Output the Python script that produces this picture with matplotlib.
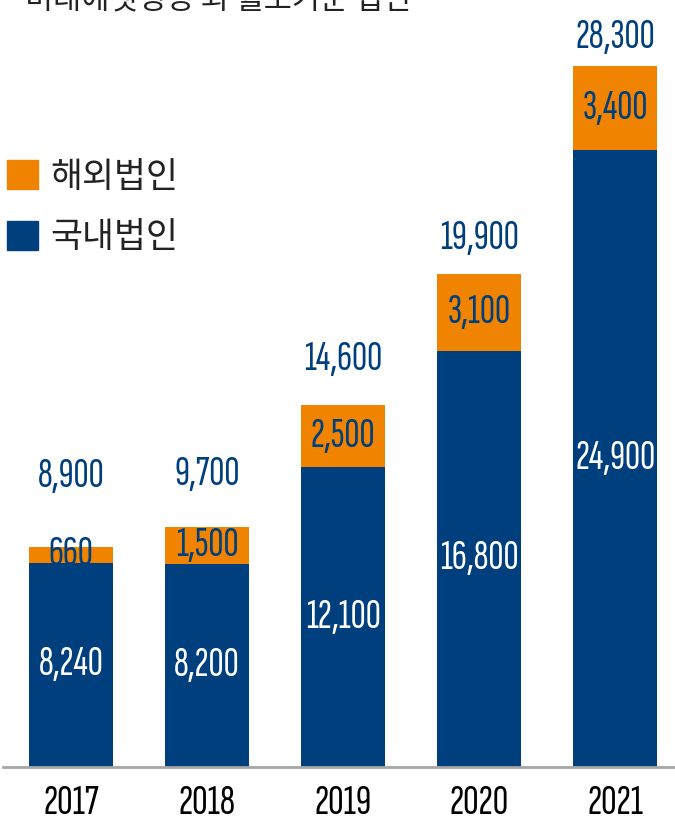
import matplotlib
matplotlib.use('Agg')
import matplotlib.pyplot as plt
from matplotlib import font_manager
from matplotlib.patches import Patch
import numpy as np

years = ['2017', '2018', '2019', '2020', '2021']
domestic = [8240, 8200, 12100, 16800, 24900]
overseas = [660, 1500, 2500, 3100, 3400]
totals = [8900, 9700, 14600, 19900, 28300]
total_pad = [70, 52, 46, 36, 29]   # px above bar top for the total label

blue = '#003f7d'
orange = '#f08300'
ink = '#222222'

# narrow face for the numbers, first one installed wins
names = {f.name for f in font_manager.fontManager.ttflist}
num_family = 'DejaVu Sans'
for cand in ['Sofia Sans Extra Condensed', 'Fira Sans Extra Condensed', 'Barlow Condensed',
             'Roboto Condensed', 'Liberation Sans Narrow']:
    if cand in names:
        num_family = cand
        break
num_prop = font_manager.FontProperties(family=num_family, weight='normal')
kr_font = ['Noto Sans CJK KR', 'DejaVu Sans']

fig = plt.figure(figsize=(6.75, 8.21), dpi=100)
ax = fig.add_axes([3 / 675, 54 / 821, 672 / 675, 767 / 821])

x = np.arange(len(years))
w = 0.62
ax.bar(x, domestic, w, color=blue, zorder=2)
ax.bar(x, overseas, w, bottom=domestic, color=orange, zorder=2)

ax.set_xlim(-0.5, 4.44)
ax.set_ylim(0, 30965)

# fit number size so the widest label sits inside a bar
r = fig.canvas.get_renderer()
probe = fig.text(0, 0, '24,900', fontproperties=num_prop, fontsize=30)
wpx = probe.get_window_extent(r).width
probe.remove()
num_prop.set_size(min(31, 30 * 80 / wpx))
year_prop = num_prop.copy()
year_prop.set_size(min(31, num_prop.get_size() * 1.05))

for i in range(len(years)):
    ax.text(x[i], domestic[i] / 2, f'{domestic[i]:,}', ha='center', va='center',
            color='white', fontproperties=num_prop, zorder=3)
    ax.text(x[i], domestic[i] + overseas[i] / 2, f'{overseas[i]:,}', ha='center',
            va='center', color=blue, fontproperties=num_prop, zorder=3)
    ax.annotate(f'{totals[i]:,}', (x[i], domestic[i] + overseas[i]),
                xytext=(0, total_pad[i]), textcoords='offset pixels',
                ha='center', va='center', color=blue, fontproperties=num_prop)

for s in ['top', 'right', 'left']:
    ax.spines[s].set_visible(False)
ax.spines['bottom'].set_color('#a6a6a6')
ax.spines['bottom'].set_linewidth(2)
ax.set_yticks([])
ax.set_xticks(x)
ax.set_xticklabels(years, fontproperties=year_prop, color='black')
ax.tick_params(axis='x', length=0, pad=13)

handles = [Patch(color=orange, label='해외법인'), Patch(color=blue, label='국내법인')]
leg = ax.legend(handles=handles, loc='upper left', bbox_to_anchor=(0.006, 0.792),
                frameon=False, handlelength=0.9, handleheight=0.9, handletextpad=0.35,
                labelspacing=0.74, borderpad=0, borderaxespad=0,
                prop={'family': kr_font, 'size': 25})
for t in leg.get_texts():
    t.set_color(ink)

fig.text(25 / 675, 1 - 9 / 821, '미래에셋생명 외 월보기준 법인', ha='left', va='baseline',
         fontsize=22, family=kr_font, color=ink)

fig.savefig('out.png', dpi=100)
